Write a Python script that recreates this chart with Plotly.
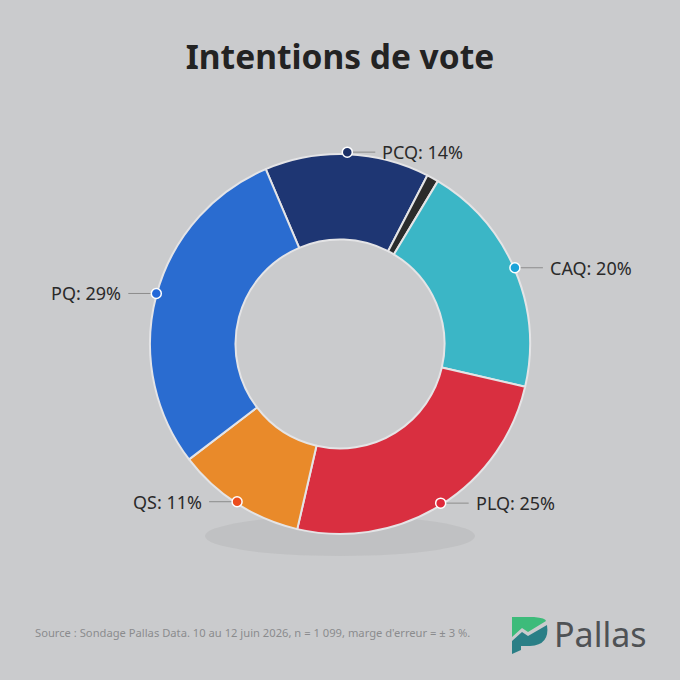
import math
import plotly.graph_objects as go

# data
parties = ["PCQ", "Autres", "CAQ", "PLQ", "QS", "PQ"]
shares = [14, 1, 20, 25, 11, 29]
show_label = [True, False, True, True, True, True]
colors = ["#1e3673", "#2b2b2b", "#3bb6c6", "#d92f40", "#e98a2a", "#2a6cd0"]
dot_colors = ["#1b2f66", "#2b2b2b", "#1ba3d9", "#e0283a", "#ec4d1e", "#2468d8"]

title = "Intentions de vote"
source = "Source : Sondage Pallas Data. 10 au 12 juin 2026, n = 1 099, marge d'erreur = ± 3 %."

W = H = 680
cx, cy = 340, 344
r_out = 190
rotation = -23

fig = go.Figure()

fig.add_trace(go.Pie(
    labels=parties, values=shares, sort=False, direction="clockwise",
    rotation=rotation, hole=0.55, textinfo="none", hoverinfo="label+percent",
    marker=dict(colors=colors, line=dict(color="#e4e4e6", width=2)),
    domain=dict(x=[(cx - r_out) / W, (cx + r_out) / W],
                y=[1 - (cy + r_out) / H, 1 - (cy - r_out) / H]),
    showlegend=False,
))

# leader dots, lines and labels from the slice mid-angles
total = sum(shares)
cum = 0
for p, s, c, show in zip(parties, shares, dot_colors, show_label):
    mid = rotation + (cum + s / 2) / total * 360
    cum += s
    if not show:
        continue
    a = math.radians(mid)
    x = cx + r_out * math.sin(a)
    y = cy - r_out * math.cos(a) - 2
    side = 1 if x > cx else -1
    x2 = x + side * 28
    fig.add_shape(type="line", xref="x", yref="y", x0=x, y0=y, x1=x2, y1=y,
                  line=dict(color="#8c8c8c", width=1), layer="above")
    fig.add_shape(type="circle", xref="x", yref="y", x0=x - 5, x1=x + 5, y0=y - 5, y1=y + 5,
                  fillcolor=c, line=dict(color="white", width=1.5), layer="above")
    fig.add_annotation(x=x2 + side * 5, y=y, xref="x", yref="y",
                       text=f"{p}: {s}%", showarrow=False,
                       xanchor="left" if side > 0 else "right",
                       font=dict(size=18, color="#2a2a2a", family="Noto Sans"))

# soft shadow under the ring
fig.add_shape(type="circle", xref="x", yref="y", x0=205, x1=475, y0=516, y1=556,
              fillcolor="rgba(120,120,125,0.12)", line_width=0, layer="below")

# Pallas logo
fig.add_shape(type="path", xref="x", yref="y", layer="above",
              path="M 512 617 L 534 617 Q 546 618 546 621 L 528 632 L 522 628 L 512 637 Z",
              fillcolor="#3dbb7a", line_width=0)
fig.add_shape(type="path", xref="x", yref="y", layer="above",
              path="M 512 641 L 522 632 L 528 636 L 547 625 Q 550 645 530 646 L 521 646 L 521 650 L 512 654 Z",
              fillcolor="#2a7f86", line_width=0)
fig.add_annotation(x=552, y=634, xref="x", yref="y", text="Pallas", showarrow=False,
                   xanchor="left", font=dict(size=34, color="#4f5255", family="Noto Sans"))

fig.add_annotation(x=33, y=632, xref="x", yref="y", text=source, showarrow=False,
                   xanchor="left", font=dict(size=11.2, color="#8a8b8d", family="Noto Sans"))

fig.update_layout(
    width=W, height=H, margin=dict(l=0, r=0, t=0, b=0),
    paper_bgcolor="#cacbcd", plot_bgcolor="rgba(0,0,0,0)",
    title=dict(text="<b>" + title + "</b>", x=0.5, xanchor="center", y=1 - 57 / H, yanchor="middle",
               font=dict(size=33.5, color="#232323", family="Noto Sans")),
    xaxis=dict(range=[0, W], visible=False, fixedrange=True),
    yaxis=dict(range=[H, 0], visible=False, fixedrange=True),
)

fig.write_html("out.html", config={"displayModeBar": False},
               post_script="document.body.style.margin='0';")
